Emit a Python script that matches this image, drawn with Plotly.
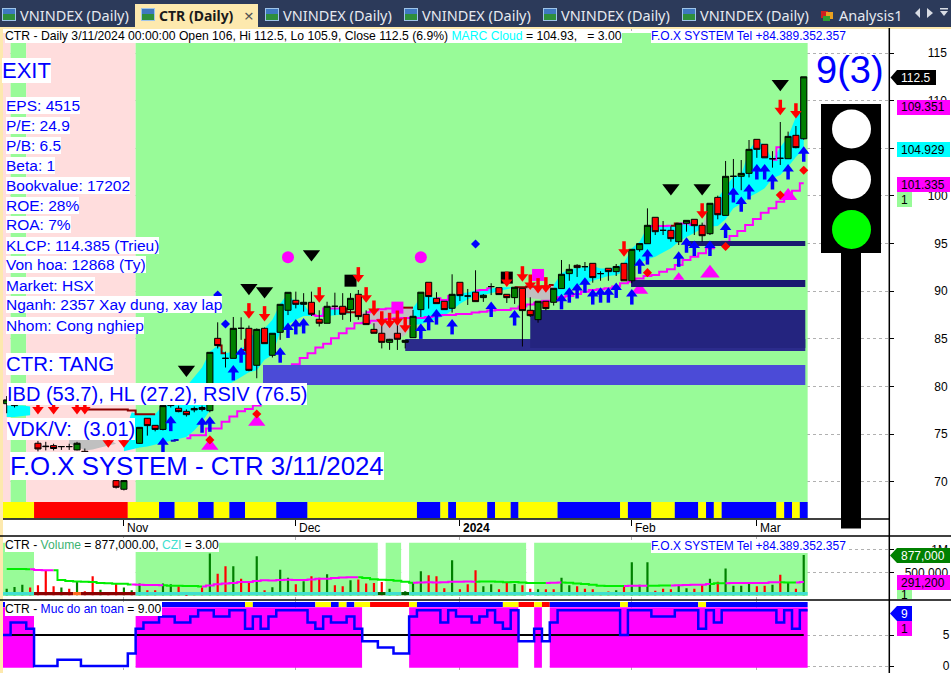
import plotly.graph_objects as go

W, H = 951, 673
def px(x): return x / W
def py(y): return 1 - y / H
def price_at(y): return 115 - (y - 53) / 9.53
def vol_at(y): return (595.3 - y) / 23 * 500000
def safe_at(y): return (666 - y) / 6.2

# ---------- data ----------
opens = [78.2,78.0,79.0,80.0,74.05,73.75,73.8,73.7,73.7,73.35,
 73.2,72.5,71.2,72.0,70.13,69.22,70.5,74.04,76.67,75.93,
 75.5,78.0,77.72,77.4,77.7,77.8,77.47,85.06,82.96,82.96,
 86.11,86.11,82.23,86.11,83.28,85.69,88.0,89.05,88.63,88.84,
 87.06,86.64,88.42,88.42,88.07,89.68,87.58,86.0,85.59,84.64,
 85.59,84.64,85.13,88.07,90.94,89.26,88.95,88.21,90.94,89.5,
 89.9,89.33,90.49,90.38,89.68,89.33,90.31,88.0,87.02,88.95,
 88.84,90.28,91.85,92.72,92.58,92.93,91.85,92.41,92.06,92.93,
 91.1,94.36,94.99,97.76,96.39,96.39,95.2,97.13,97.55,96.92,
 96.04,99.85,97.96,102.06,102.06,102.37,105.94,105.42,103.9,103.95,
 103.91,106.36,106.0]
highs = [79.0,79.3,80.0,80.3,74.3,74.2,74.0,73.75,74.0,74.2,
 73.5,73.0,72.2,72.3,71.2,70.5,73.0,75.72,76.7,75.95,
 78.2,78.6,78.0,77.6,77.9,78.0,83.59,86.74,83.66,87.3,
 87.27,86.4,86.1,86.2,85.59,88.63,89.89,89.96,89.8,89.96,
 88.0,88.9,89.85,89.8,89.8,90.13,88.0,86.64,86.5,85.0,
 86.5,84.85,88.04,89.9,90.94,89.9,88.95,91.78,90.94,90.24,
 92.2,89.7,90.84,90.38,89.68,90.42,90.31,89.37,88.95,88.95,
 90.31,93.28,92.83,92.83,93.07,92.93,92.1,92.41,92.86,92.93,
 94.4,95.0,98.7,97.76,97.37,96.8,97.13,97.44,97.55,97.2,
 99.23,100.03,103.67,103.88,103.77,105.87,105.94,105.42,104.7,107.76,
 106.75,107.34,112.5]
lows = [77.2,77.8,78.8,78.8,73.2,73.3,73.3,73.35,73.35,73.3,
 72.3,71.5,71.0,70.8,69.3,69.1,70.3,74.0,74.85,75.3,
 75.4,77.8,77.3,76.85,77.3,77.4,77.3,84.0,82.0,82.96,
 84.9,81.6,80.87,84.5,83.05,84.9,87.5,88.2,87.86,87.4,
 86.3,86.64,87.5,87.0,86.8,87.0,86.5,85.59,84.0,83.85,
 83.84,84.0,85.13,87.3,88.18,88.7,88.07,87.76,88.98,88.56,
 88.91,88.88,89.6,89.65,88.77,88.67,84.2,87.3,86.7,88.0,
 88.5,90.28,91.1,91.5,92.13,90.9,91.1,91.1,91.6,91.1,
 90.83,94.15,94.99,95.9,95.9,95.2,94.85,96.25,95.9,95.2,
 95.9,97.55,97.96,100.8,100.6,101.95,104.0,104.0,102.97,103.25,
 103.91,105.0,105.9]
closes = [78.6,79.0,79.8,79.0,73.45,73.7,73.5,73.7,73.7,74.05,
 72.4,71.7,72.0,71.0,69.43,70.13,72.8,75.72,75.9,75.5,
 78.0,78.5,77.37,77.05,77.55,77.6,83.59,84.3,82.96,86.11,
 86.11,81.7,86.0,84.5,85.59,88.63,89.89,88.63,88.84,87.58,
 86.64,88.42,88.42,87.58,89.26,87.34,86.5,85.59,84.64,84.96,
 84.96,84.85,87.37,89.9,89.44,88.7,88.07,89.68,89.54,89.5,
 88.91,89.58,90.49,89.65,89.33,90.42,87.97,87.44,88.95,88.18,
 90.31,91.78,92.3,92.48,92.58,91.43,91.85,92.06,92.6,91.1,
 94.4,95.0,96.92,96.25,96.39,95.52,97.13,97.44,96.88,95.83,
 99.23,98.03,102.06,102.06,102.37,104.89,104.89,104.0,103.9,103.95,
 106.25,105.07,112.5]

volumes = [145,181,232,167,217,543,196,167,145,290,
 87,413,123,72,254,167,109,254,109,109,
 254,239,196,36,72,167,906,471,630,630,
 362,290,848,109,174,558,384,239,304,413,
 384,457,217,196,326,341,254,268,290,145,
 65,87,268,522,435,413,152,761,130,239,
 543,196,239,130,275,246,217,145,130,130,
 130,384,217,196,145,130,58,80,109,217,
 717,232,717,101,145,130,232,152,145,232,
 362,297,580,210,210,283,196,210,232,449,
 275,145,877]
vol_dir = ("GGGRRRRGRG" "RRGRRGGGRR" "GGRRRRGRRG" "RRGRGGGRGR" "RGRRGRRRRG"
           "RGGGRRRGRR" "RGGRRGRRGR" "RGGRRRRRGR" "GGGRRRGGRR" "GRGGGGRRGR" "GRG")
vol_ma = [572,572,572,565,550,545,545,330,310,300,
 295,290,265,260,250,250,235,232,225,225,
 218,210,205,203,200,190,215,240,255,265,
 290,290,310,325,320,330,340,335,335,345,
 360,360,375,385,395,395,375,350,340,330,
 315,295,275,280,285,280,285,295,295,300,
 295,300,300,295,285,290,280,270,265,270,
 275,280,275,255,245,230,205,200,200,200,
 205,205,205,210,212,215,220,225,228,232,
 245,260,262,265,268,268,268,268,283,283,
 280,280,291]
vol_ma_segments = [(0,3,"#00ee00"),(3,6,"#ff00ff"),(6,16,"#00ee00"),(16,20,"#ff00ff"),(20,25,"#00ee00"),
 (25,45,"#ff00ff"),(45,52,"#00ee00"),(52,60,"#ff00ff"),(60,69,"#00ee00"),(69,71,"#ff00ff"),(71,79,"#00ee00"),
 (79,82,"#ff00ff"),(82,85,"#00ee00"),(85,90,"#ff00ff"),(90,92,"#00ee00"),(92,99,"#ff00ff"),(99,101,"#00ee00"),(101,102,"#ff00ff")]

safety = [5,7,7,6,0,0,0,1,1,1,
 0,0,0,0,0,0,2,6,7,7,
 8,8,7,7,8,9,9,8,8,9,
 9,6,8,6,8,9,9,9,9,7,
 6,8,7,7,8,6,4,4,3,3,
 2,2,8,9,9,9,7,9,8,8,
 7,8,9,7,6,9,4,4,6,4,
 7,9,9,9,9,9,9,9,9,5,
 9,9,9,8,8,8,9,9,9,6,
 9,7,9,9,9,9,9,9,9,7,
 9,6,9]

cloud_top = [78,78,78,77.9,None,None,None,None,74.5,75,
 75.5,75.5,75,74.5,74,75,77.3,77.1,77.1,77.1,
 78,78.5,79,80,81,82,83.66,84.3,83.5,83.66,
 83.84,84.9,86,86.1,87,88.7,89.8,88.7,88.7,87.5,
 87.4,88.2,88.2,88.2,87.8,87.8,87.8,88.0,88.1,88.2,
 88.28,88.28,88.28,89.36,89.5,89.26,89.09,89.5,89.79,89.86,
 90.07,90.14,90.31,90.42,90.42,90.42,90.42,90.5,90.5,90.5,
 90.66,91.88,92.3,92.41,92.58,92.65,92.4,92.4,92.58,93.0,
 94.5,95.2,96.8,96.85,96.85,96.88,97.1,97.1,96.95,96.95,
 98.5,99.75,101,102,102.2,104.8,105.9,105.3,103.8,105.1,
 106.2,108.3,109.35]
cloud_bot = [76.8,76.8,76.9,77,None,None,None,None,74,73.7,
 73.3,73.4,73.6,73.8,74,73.2,73.4,73.6,73.7,73.9,
 74.1,74.3,74.5,74.7,75.4,76.3,77.5,79.5,80,80.5,
 81,81.5,81.7,82.8,83.3,85.76,86.5,87,87.4,87.4,
 87.4,87.4,87.48,87.55,87.7,87.5,87,86.3,85.06,84.9,
 84.9,85.4,86.46,86.53,86.8,87.06,87.4,88.04,88.7,89.16,
 89.54,89.6,89.8,90,90.2,90.42,89.37,89.26,89.16,89.1,
 89.1,89.37,90.14,90.49,90.84,91.1,91.36,91.6,91.7,92.05,
 92.4,92.93,93.35,93.63,94.05,94.5,95.2,95.7,96.1,96.6,
 96.8,96.85,97.55,98.7,99.2,99.9,100.3,100.8,101.85,102.2,
 103.07,104.1,104.93]
cloud_segments = [(0,3,"#00ffff"),(8,14,"#c0c0c0"),(15,44,"#00ffff"),(44,52,"#c0c0c0"),(52,65,"#00ffff"),
 (65,70,"#c0c0c0"),(70,89,"#00ffff"),(89,90,"#c0c0c0"),(90,102,"#00ffff")]
upper_segments = [(27,28,"#8b0000"),(30,31,"#8b0000"),(39,43,"#ff00ff"),(43,45,"#8b0000"),(46,50,"#ff00ff"),
 (50,52,"#8b0000"),(55,57,"#ff00ff"),(60,62,"#ff00ff"),(65,70,"#8b0000"),(82,85,"#ff00ff"),(85,86,"#8b0000"),
 (86,88,"#ff00ff"),(98,99,"#ff00ff")]
early_upper_x = [10,11,12,13,14,15,16,17,18,19]
early_upper_y = [77.6,77.6,77.6,77.6,77.6,77.6,77.5,77.1,77.1,77.1]

lower_x = list(range(21, 103))
lower_line = [74.3,74.4,74.57,74.9,74.9,75.6,75.6,76.3,76.85,77.4,
 77.65,78.0,79.0,79.8,80.6,81.5,82.33,83.0,83.5,84.1,
 84.5,85.06,85.6,86.1,86.64,86.7,86.9,87.0,87.1,87.16,
 87.2,87.2,87.2,87.3,87.4,87.5,87.5,87.6,87.6,87.76,
 87.86,87.97,88.04,88.04,88.18,88.4,88.6,88.8,89.0,89.0,
 89.36,89.5,89.7,89.96,90.14,90.2,90.31,90.49,90.83,91.0,
 91.35,91.6,91.7,92.05,92.3,92.75,93.28,93.63,93.98,94.5,
 94.85,95.2,95.8,96.32,96.95,97.58,98.25,98.7,99.4,99.93,
 100.55,101.33]

up_x = [20,21,25,26,29,30,35,36,37,38,53,54,55,57,62,65,71,72,73,74,75,76,77,78,80,81,82,86,87,88,90,92,93,94,95,96,97,98,100,102]
up_y = [74.15,76.42,76.25,76.35,81.74,83.6,83.6,86.2,86.57,86.67,86.1,87,87.6,86.57,88.4,87.5,89.2,89.9,90.34,90.94,89.7,89.9,89.9,90.4,89.7,92.93,93.9,93.66,95.13,94.8,94.8,96.7,100.4,99.43,100.73,102.83,102.83,101.78,102.83,104.68]
down_x = [4,6,9,10,13,15,31,33,40,45,46,47,48,49,50,51,64,66,67,68,69,79,89,99,101]
down_y = [77.6,77.6,77.6,77.6,74.1,74.1,87.65,87.34,89.33,91.43,89.33,87.93,86.8,86.64,86.88,86.18,90.97,91.53,90.66,90.28,90.38,94.15,98.14,109.0,108.64]
black_tri_x = [23,31,33,39,85,89,99]
black_tri_y = [81.8,90.38,90.03,93.9,100.83,100.83,111.78]
pink_tri_x = [26,32,81,86,90,100]
pink_tri_y = [73.76,76.28,90.13,91.46,91.88,99.99]
pink_tri_size = [15,15,15,10,17,16]
pink_dot_x = [36,53]
pink_dot_y = [93.56,93.56]
blue_dot_x = [27,28,60]
blue_dot_y = [89.6,86.57,94.96]
red_dot_x = [26,32,82,92,99,102]
red_dot_y = [74.4,77.12,91.95,94.7,100.1,102.7]
pink_sq_x = [50,68]
pink_sq_y = [88.28,91.71]
black_sq_x = [44,64]
black_sq_y = [91.11,91.43]

zone_start = [32.8,51,67,79.9,86.8]
zone_end = [102.2,102.2,102.2,102.2,102.2]
zone_low = [80.16,83.73,84.05,90.45,94.75]
zone_high = [82.26,84.99,88.03,91.18,95.27]
zone_color = ["#4b4bd7","#2b2b8c","#24247f","#191970","#191970"]

price_bg_runs = [("#ffdddd",1),("#98fb98",2),("#ffdddd",14),("#98fb98",86)]
strip_runs = [("#ffff00",4),("#ff0000",12),("#ffff00",4),("#0000ff",2),("#ffff00",3),("#0000ff",2),("#ffff00",2),("#0000ff",2),("#ffff00",4),("#0000ff",4),("#ffff00",14),("#0000ff",3),("#ffff00",1),("#0000ff",1),("#ffff00",4),("#0000ff",1),("#ffff00",2),("#0000ff",1),("#ffff00",5),("#0000ff",8),("#ffff00",1),("#0000ff",3),("#ffff00",3),("#0000ff",3),("#ffff00",1),("#0000ff",1),("#ffff00",1),("#0000ff",7),("#ffff00",1),("#0000ff",1),("#ffff00",1),("#0000ff",1)]
vol_bg_runs = [("#98fb98",4),("#ffffff",13),("#98fb98",31),("#ffffff",1),("#98fb98",2),("#ffffff",1),("#98fb98",15),("#ffffff",1),("#98fb98",35)]
czi_runs = [("#40e0d0",4),("#8b0000",5),("#ff6a20",1),("#8b0000",7),("#40e0d0",31),("#006400",1),("#40e0d0",2),("#006400",1),("#40e0d0",51)]
safe_bg_runs = [("#ff00ff",4),("#ffffff",13),("#ff00ff",29),("#ffffff",6),("#ff00ff",14),("#ffffff",2),("#ff00ff",1),("#ffffff",1),("#ff00ff",33)]
safe_strip_runs = [("#0000ff",31),("#ffff00",1),("#0000ff",8),("#ffff00",2),("#0000ff",1),("#ffff00",1),("#0000ff",1),("#ffff00",2),("#ff0000",5),("#ffff00",1),("#0000ff",11),("#ffff00",2),("#ff0000",2),("#ffff00",1),("#ff0000",1),("#0000ff",9),("#ffff00",1),("#0000ff",9),("#ffff00",1),("#0000ff",13)]

month_idx = [15,37,58,80,96]
month_lbl = ["Nov","Dec","2024","Feb","Mar"]
price_ticks = [70,75,80,85,90,95,100,105,110,115]
vol_ticks = [500000,1000000]
safe_ticks = [0,5]
info_lines = ["EPS: 4515","P/E: 24.9","P/B: 6.5","Beta: 1","Bookvalue: 17202","ROE: 28%","ROA: 7%",
              "KLCP: 114.385 (Trieu)","Von hoa: 12868 (Ty)","Market: HSX","Nganh: 2357 Xay dung, xay lap","Nhom: Cong nghiep"]
tab_titles = ["VNINDEX (Daily)","CTR (Daily)","VNINDEX (Daily)","VNINDEX (Daily)","VNINDEX (Daily)","VNINDEX (Daily)"]
tab_text_x = [20,159,283,422,561,700]

# ---------- helpers ----------
FONT = "Liberation Sans"
N = len(opens)
idx = list(range(N))
def run_bars(runs, lo, hi, xa, ya):
    xs, ws, cs, pos = [], [], [], -0.5
    for c, n in runs:
        xs.append(pos + n / 2); ws.append(n); cs.append(c); pos += n
    return go.Bar(x=xs, width=ws, y=[hi - lo] * len(xs), base=[lo] * len(xs), marker=dict(color=cs, line_width=0), xaxis=xa, yaxis=ya)

x0 = (3 - 6.7) / 7.814
x1 = (889.3 - 6.7) / 7.814
fig = go.Figure()

# ---- price pane: base layer ----
fig.add_trace(run_bars(price_bg_runs, price_at(519), price_at(33), "x", "y"))
fig.add_trace(run_bars(strip_runs, price_at(518), price_at(502), "x", "y"))
for a, b, col in cloud_segments:
    xs = idx[a:b+1]
    fig.add_trace(go.Scatter(x=xs, y=cloud_bot[a:b+1], mode="lines", line=dict(width=0, color=col), xaxis="x", yaxis="y"))
    fig.add_trace(go.Scatter(x=xs, y=cloud_top[a:b+1], mode="lines", line=dict(width=0, color=col), fill="tonexty", fillcolor=col, xaxis="x", yaxis="y"))
for a, b, col in upper_segments:
    fig.add_trace(go.Scatter(x=idx[a:b+1], y=cloud_top[a:b+1], mode="lines", line=dict(width=2, color=col, shape="hvh"), xaxis="x", yaxis="y"))
fig.add_trace(go.Scatter(x=early_upper_x, y=early_upper_y, mode="lines", line=dict(width=2, color="#8b0000", shape="hvh"), xaxis="x", yaxis="y"))
fig.add_trace(go.Scatter(x=lower_x[:2], y=lower_line[:2], mode="lines", line=dict(width=2, color="#1010c0", shape="hvh"), xaxis="x", yaxis="y"))
fig.add_trace(go.Scatter(x=lower_x[2:], y=lower_line[2:], mode="lines", line=dict(width=2, color="#ff00ff", shape="hvh"), xaxis="x", yaxis="y"))
fig.add_trace(go.Scatter(x=pink_tri_x, y=pink_tri_y, mode="markers", marker=dict(symbol="triangle-up", size=pink_tri_size, opacity=1, color="#ff00ff", line_width=0), xaxis="x", yaxis="y"))
fig.add_trace(go.Scatter(x=pink_dot_x, y=pink_dot_y, mode="markers", marker=dict(symbol="circle", size=12, color="#ff00ff", line_width=0), xaxis="x", yaxis="y"))
fig.add_trace(go.Scatter(x=pink_sq_x, y=pink_sq_y, mode="markers", marker=dict(symbol="square", size=12, color="#ff00ff", line_width=0), xaxis="x", yaxis="y"))
fig.add_trace(go.Scatter(x=black_sq_x, y=black_sq_y, mode="markers", marker=dict(symbol="square", size=12, color="#000000", line_width=0), xaxis="x", yaxis="y"))
for s, e, lo, hi, col in zip(zone_start, zone_end, zone_low, zone_high, zone_color):
    fig.add_trace(go.Scatter(x=[s,e,e,s,s], y=[lo,lo,hi,hi,lo], mode="lines", line=dict(width=0, color=col), fill="toself", fillcolor=col, xaxis="x", yaxis="y"))

# ---- price pane: overlay layer (candles above cloud) ----
fig.add_trace(go.Candlestick(x=idx, open=opens, high=highs, low=lows, close=closes, whiskerwidth=0,
    increasing=dict(line=dict(color="#000000", width=1), fillcolor="#008000"),
    decreasing=dict(line=dict(color="#000000", width=1), fillcolor="#ff0000"), xaxis="x", yaxis="y4"))
fig.add_trace(go.Scatter(x=up_x, y=up_y, mode="markers", marker=dict(symbol="triangle-up", size=10, color="#0000ff", line_width=0),
    error_y=dict(type="data", symmetric=False, array=[0]*len(up_y), arrayminus=[1.1]*len(up_y), thickness=3.5, width=0, color="#0000ff"), xaxis="x", yaxis="y4"))
fig.add_trace(go.Scatter(x=down_x, y=down_y, mode="markers", marker=dict(symbol="triangle-down", size=10, color="#ff0000", line_width=0),
    error_y=dict(type="data", symmetric=False, array=[1.1]*len(down_y), arrayminus=[0]*len(down_y), thickness=3.5, width=0, color="#ff0000"), xaxis="x", yaxis="y4"))
fig.add_trace(go.Scatter(x=black_tri_x, y=black_tri_y, mode="markers", marker=dict(symbol="triangle-down", size=15, color="#000000", line_width=0), xaxis="x", yaxis="y4"))
fig.add_trace(go.Scatter(x=blue_dot_x, y=blue_dot_y, mode="markers", marker=dict(symbol="diamond", size=7, color="#0000ff", line_width=0), xaxis="x", yaxis="y4"))
fig.add_trace(go.Scatter(x=red_dot_x, y=red_dot_y, mode="markers", marker=dict(symbol="diamond", size=7, color="#ff0000", line_width=0), xaxis="x", yaxis="y4"))

# ---- volume pane ----
fig.add_trace(run_bars(vol_bg_runs, vol_at(596), vol_at(542.7), "x2", "y2"))
fig.add_trace(go.Bar(x=idx, y=[v*1000 for v in volumes], width=0.28, marker=dict(color=["#008000" if c=="G" else "#ff0000" for c in vol_dir], line_width=0), xaxis="x2", yaxis="y2"))
fig.add_trace(run_bars(czi_runs, 0, 72000, "x2", "y2"))
for a, b, col in vol_ma_segments:
    fig.add_trace(go.Scatter(x=idx[a:b+1], y=[v*1000 for v in vol_ma[a:b+1]], mode="lines", line=dict(width=2, color=col, shape="hvh"), xaxis="x2", yaxis="y2"))

# ---- safety pane ----
fig.add_trace(run_bars(safe_bg_runs, safe_at(667.7), safe_at(607.3), "x3", "y3"))
fig.add_trace(run_bars(safe_strip_runs, safe_at(607), safe_at(602), "x3", "y3"))
fig.add_trace(go.Scatter(x=[0,102], y=[5,5], mode="lines", line=dict(width=2.2, color="#000000"), xaxis="x3", yaxis="y3"))
fig.add_trace(go.Scatter(x=[i-0.5 for i in idx]+[102.5], y=safety+[safety[-1]], mode="lines", line=dict(width=2.5, color="#0000ff", shape="hv"), xaxis="x3", yaxis="y3"))

# ---------- layout ----------
shapes = []
def rect(x0_, y0_, x1_, y1_, color, layer="above"):
    shapes.append(dict(type="rect", xref="paper", yref="paper", x0=px(x0_), x1=px(x1_), y0=py(y1_), y1=py(y0_), fillcolor=color, line_width=0, layer=layer))
def hline(x0_, x1_, y, w=1.5, color="#000000"):
    shapes.append(dict(type="line", xref="paper", yref="paper", x0=px(x0_), x1=px(x1_), y0=py(y), y1=py(y), line=dict(color=color, width=w), layer="above"))
def vline(x, y0_, y1_, w=1.5, color="#000000"):
    shapes.append(dict(type="line", xref="paper", yref="paper", x0=px(x), x1=px(x), y0=py(y0_), y1=py(y1_), line=dict(color=color, width=w), layer="above"))
def poly(points, color):
    d = "M " + " L ".join(f"{px(a):.5f},{py(b):.5f}" for a, b in points) + " Z"
    shapes.append(dict(type="path", xref="paper", yref="paper", path=d, fillcolor=color, line_width=0, layer="above"))
def circle(cx, cy, r, color):
    shapes.append(dict(type="circle", xref="paper", yref="paper", x0=px(cx-r), x1=px(cx+r), y0=py(cy+r), y1=py(cy-r), fillcolor=color, line_width=0, layer="above"))

# window chrome
rect(0, 0, 951, 27, "#2c3a5a")
rect(0, 27, 951, 29, "#fde9ae")
rect(0, 27, 3, 673, "#fde9ae")
rect(135, 4, 258, 27, "#fde9ae")
for ix in [2, 141, 265, 404, 543, 682]:
    rect(ix, 8, ix+14, 21, "#9fc4e8")
    rect(ix+1, 14, ix+13, 20, "#2f8f3a")
    rect(ix+1, 9, ix+13, 14, "#3f78c0")
rect(821, 11, 828, 18, "#d02020"); rect(826, 12, 833, 19, "#e8a020"); rect(823, 16, 830, 21, "#30a030")
poly([(920,8),(920,18),(915,13)], "#d8dce4")
poly([(927,8),(927,18),(933,13)], "#d8dce4")
poly([(940,11),(948,11),(944,16)], "#d8dce4")
rect(940, 8, 948, 9.5, "#d8dce4")

# pane frames
hline(3, 889.3, 519, 1.5)
hline(0, 951, 536, 1.5)
hline(0, 951, 600, 1.5)
vline(889.3, 28, 673, 1.5)

# traffic light
rect(821, 104, 881, 253, "#000000")
rect(841, 253, 861, 528.5, "#000000")
circle(851.5, 129, 19.5, "#ffffff")
circle(851.5, 179.5, 19.5, "#ffffff")
circle(851.5, 229.5, 19.5, "#00ff00")

# value tags
poly([(890.5,77.5),(897,70),(936,70),(936,85),(897,85)], "#000000")
rect(897, 100, 950, 115, "#ff00ff")
rect(897, 142, 950, 157, "#00ffff")
rect(897, 177, 950, 192, "#ff00ff")
rect(897, 192, 912, 207, "#98fb98")
poly([(890,555.5),(897,548),(950,548),(950,563),(897,563)], "#008000")
rect(897, 575, 950, 590, "#ff00ff")
rect(897, 590, 912, 599, "#98fb98")
poly([(890,613.5),(897,606),(912,606),(912,621),(897,621)], "#0000ff")
rect(897, 621, 912, 636, "#ff00ff")

ann = []
def txt(x, y, s, size=12, color="#000000", bg=None, anchor="left", font=FONT):
    a = dict(xref="paper", yref="paper", x=px(x), y=py(y), text=s, showarrow=False, xanchor=anchor, yanchor="middle",
             align="left", font=dict(family=font, size=size, color=color), borderpad=0, borderwidth=0)
    if bg:
        a["bgcolor"] = bg
    ann.append(a)

# tabs
for tx, title in zip(tab_text_x, tab_titles):
    if title.startswith("CTR"):
        txt(tx, 15, f"<b>{title}</b>", 14, "#1a1a1a", font="Noto Sans")
    else:
        txt(tx, 15, title, 14.5, "#e6e9f0", font="Noto Sans")
txt(839, 15, "Analysis1", 14.5, "#e6e9f0", font="Noto Sans")
txt(244, 15, "×", 17, "#555555", font="Noto Sans")

# pane headings
txt(5, 36, 'CTR - Daily 3/11/2024 00:00:00 Open 106, Hi 112.5, Lo 105.9, Close 112.5 (6.9%) <span style="color:#00ffff">MARC Cloud</span> = 104.93,   = 3.00', 12.2, bg="#ffffff")
txt(651, 36, "F.O.X SYSTEM Tel +84.389.352.357", 12, "#0000ff", bg="#ffffff")
txt(5, 545, 'CTR - <span style="color:#3cb371">Volume</span> = 877,000.00, <span style="color:#40e0d0">CZI</span> = 3.00', 12.1, bg="#ffffff")
txt(651, 546, "F.O.X SYSTEM Tel +84.389.352.357", 12, "#0000ff", bg="#ffffff")
txt(5, 609, 'CTR - <span style="color:#0000ff">Muc do an toan</span> = 9.00', 12.1, bg="#ffffff")

# info block
BLUE = "#0000ff"
txt(2, 71, "EXIT", 22, BLUE, bg="#ffffff")
for k, line in enumerate(info_lines):
    txt(6, 105 + 20*k, line, 15.5, BLUE, bg="#ffffff")
txt(6, 364, "CTR: TANG", 20.4, BLUE, bg="#ffffff")
txt(7, 394, "IBD (53.7), HL (27.2), RSIV (76.5)", 20, BLUE, bg="#ffffff")
txt(7, 429, "VDK/V:  (3.01)", 20, BLUE, bg="#ffffff")
txt(10, 466, "F.O.X SYSTEM - CTR 3/11/2024", 25.8, BLUE, bg="#ffffff")
txt(816, 70, "9(3)", 38, BLUE)

# month labels
for i_, lab in zip(month_idx, month_lbl):
    a = dict(xref="x", yref="paper", x=i_, y=py(527.5), text=f"<b>{lab}</b>" if lab == "2024" else lab, showarrow=False,
             xanchor="left", yanchor="middle", xshift=1, font=dict(family=FONT, size=12, color="#000000"))
    ann.append(a)

# tag texts
txt(901, 77.5, "112.5", 12, "#ffffff")
txt(901, 107.5, "109.351", 12)
txt(901, 149.5, "104.929", 12)
txt(901, 184.5, "101.335", 12)
txt(901, 199.5, "1", 12)
txt(901, 555.5, "877,000", 12, "#ffffff")
txt(901, 582.5, "291,200", 12)
txt(901, 595, "1", 12)
txt(901, 613.5, "9", 12, "#ffffff")
txt(901, 628.5, "1", 12)

GRID = dict(showgrid=True, gridcolor="#b0b0b0", griddash="dot", gridwidth=1, zeroline=False)
xcommon = dict(domain=[px(3), px(889.3)], range=[x0, x1], tickmode="array", tickvals=month_idx, showticklabels=False, **GRID)
ycommon = dict(side="right", tickmode="array", ticks="outside", ticklen=4, tickcolor="#000000", ticklabeloverflow="allow",
               tickfont=dict(family=FONT, size=12, color="#000000"), **GRID)
NB = "\u00a0"
price_txt = [(NB*2 + str(t) if t < 100 else str(t)) for t in price_ticks]

fig.update_layout(
    width=W, height=H, autosize=False, margin=dict(l=0, r=0, t=0, b=0), paper_bgcolor="#ffffff", plot_bgcolor="#ffffff",
    showlegend=False, barmode="overlay", boxgap=0.22, boxgroupgap=0, font=dict(family=FONT, size=12, color="#000000"),
    hovermode=False, shapes=shapes, annotations=ann,
    xaxis=dict(anchor="y", ticks="outside", ticklen=6, tickcolor="#000000", tickwidth=1, rangeslider=dict(visible=False), **xcommon),
    xaxis2=dict(anchor="y2", ticks="", **xcommon),
    xaxis3=dict(anchor="y3", ticks="", **xcommon),
    yaxis=dict(domain=[py(518.5), py(28)], range=[price_at(518.5), price_at(28)], tickvals=price_ticks, ticktext=price_txt, ticklabelstandoff=31, anchor="x", **ycommon),
    yaxis2=dict(domain=[py(600), py(537)], range=[vol_at(600), vol_at(537)], tickvals=vol_ticks, ticktext=["500,000", NB*8+"1M"], ticklabelstandoff=8, anchor="x2", **ycommon),
    yaxis3=dict(domain=[py(673), py(601)], range=[safe_at(673), safe_at(601)], tickvals=safe_ticks, ticktext=[str(t) for t in safe_ticks], ticklabelstandoff=46, anchor="x3", **ycommon),
    yaxis4=dict(overlaying="y", range=[price_at(518.5), price_at(28)], visible=False, anchor="x", side="right"),
)
fig.write_html("out.html", config={"displayModeBar": False}, post_script="document.body.style.margin='0';document.documentElement.style.overflow='hidden';")
